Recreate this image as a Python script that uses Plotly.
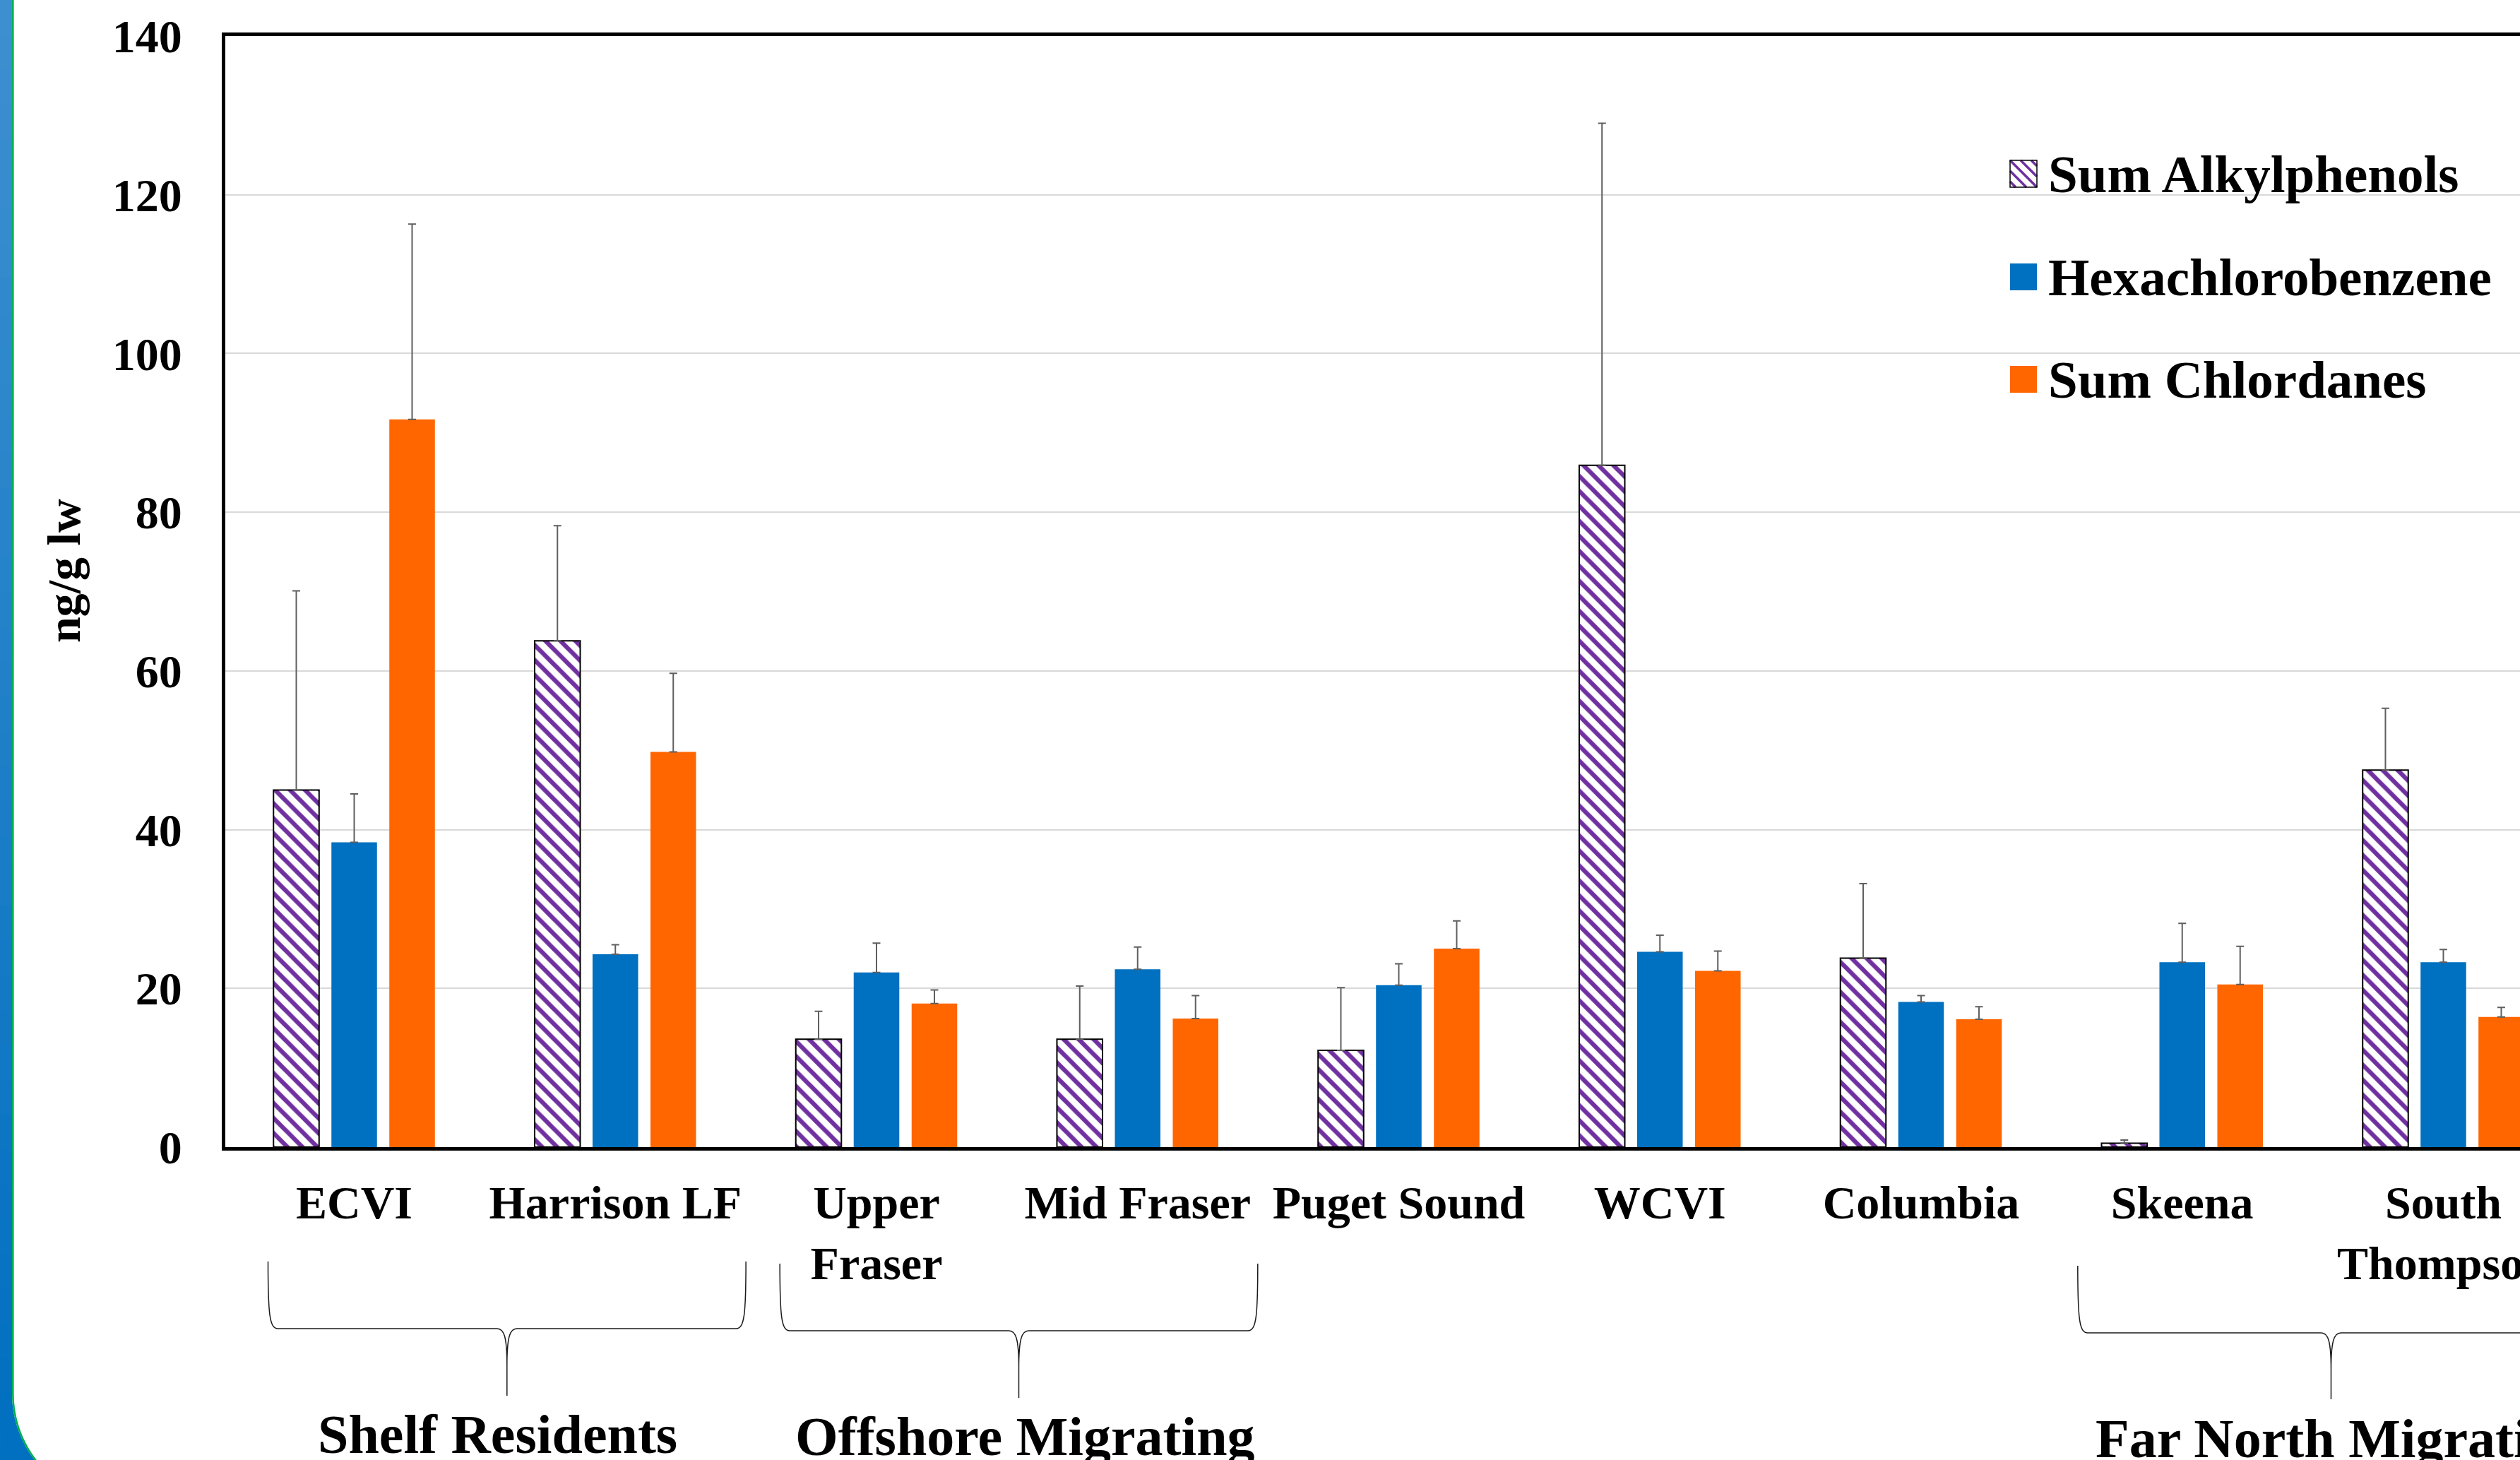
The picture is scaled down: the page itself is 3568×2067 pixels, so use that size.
import math
import plotly.graph_objects as go

# ---------------- data ----------------
categories = ["ECVI", "Harrison LF", "Upper Fraser", "Mid Fraser", "Puget Sound",
              "WCVI", "Columbia", "Skeena", "South Thompson"]
tick_labels = ["ECVI", "Harrison LF", "Upper<br>Fraser", "Mid Fraser", "Puget Sound",
               "WCVI", "Columbia", "Skeena", "South<br>Thompson"]

series_names = ["Sum Alkylphenols", "Hexachlorobenzene", "Sum Chlordanes"]

alkylphenols = [45.0, 63.8, 13.6, 13.6, 12.2, 85.9, 23.8, 0.5, 47.5]
alkylphenols_upper = [70.1, 78.3, 17.1, 20.3, 20.1, 129.0, 33.2, 0.9, 55.3]

hexachlorobenzene = [38.4, 24.3, 22.0, 22.4, 20.4, 24.6, 18.3, 23.3, 23.3]
hexachlorobenzene_upper = [44.5, 25.5, 25.7, 25.2, 23.1, 26.7, 19.1, 28.2, 24.9]

chlordanes = [91.7, 49.8, 18.1, 16.2, 25.0, 22.2, 16.1, 20.5, 16.4]
chlordanes_upper = [116.3, 59.7, 19.8, 19.1, 28.5, 24.7, 17.7, 25.3, 17.6]

y_ticks = [0, 20, 40, 60, 80, 100, 120, 140]
y_title = "ng/g lw"

# migration groups: label, brace span (category units), label centre
group_names = ["Shelf Residents", "Offshore Migrating", "Far North Migrating"]
group_brace_start = [-0.33, 1.63, 6.60]
group_brace_end = [1.50, 3.46, 8.54]
group_label_center = [0.55, 2.57, 7.61]

# ---------------- styling / layout constants ----------------
W, H = 3568, 2067
L, T, B = 319, 51, 1624          # plot area edges in pixels (right edge = page edge)
XMIN, XMAX = -0.4936, 8.2935
YMAX = 140

FONT = "Liberation Serif"
PURPLE = "#7030A0"
BLUE = "#0070C0"
ORANGE = "#FF6600"
ERR = "#5F5F5F"


def pxx(px):
    return (px - L) / (W - L)


def pxy(py):
    return (B - py) / (B - T)


def cat_px(c):
    return L + (c - XMIN) / (XMAX - XMIN) * (W - L)


def err_plus(vals, upper):
    return [round(u - v, 3) for v, u in zip(vals, upper)]


fig = go.Figure()

fig.add_trace(go.Bar(
    x=categories, y=alkylphenols, name=series_names[0],
    marker=dict(color="white",
                pattern=dict(shape="\\", fgcolor=PURPLE, bgcolor="white",
                             size=15, solidity=0.42),
                line=dict(color="black", width=2)),
    error_y=dict(type="data", symmetric=False,
                 array=err_plus(alkylphenols, alkylphenols_upper),
                 arrayminus=[0] * len(alkylphenols),
                 color=ERR, thickness=2, width=5.5),
))
fig.add_trace(go.Bar(
    x=categories, y=hexachlorobenzene, name=series_names[1],
    marker=dict(color=BLUE, line=dict(width=0)),
    error_y=dict(type="data", symmetric=False,
                 array=err_plus(hexachlorobenzene, hexachlorobenzene_upper),
                 arrayminus=[0] * len(hexachlorobenzene),
                 color=ERR, thickness=2, width=5.5),
))
fig.add_trace(go.Bar(
    x=categories, y=chlordanes, name=series_names[2],
    marker=dict(color=ORANGE, line=dict(width=0)),
    error_y=dict(type="data", symmetric=False,
                 array=err_plus(chlordanes, chlordanes_upper),
                 arrayminus=[0] * len(chlordanes),
                 color=ERR, thickness=2, width=5.5),
))

shapes = []
annotations = []

# ---- slide frame: blue gradient strip on the left with a green rim ----
top_rgb = (62, 144, 208)
bot_rgb = (2, 112, 192)
strip_w = 17.0
corner_y = 1973.0
R = 154.0
n_bands = 40
for i in range(n_bands):
    y0 = corner_y * i / n_bands
    y1 = corner_y * (i + 1) / n_bands + 1
    t = (i + 0.5) / n_bands
    col = tuple(round(a + (b - a) * t) for a, b in zip(top_rgb, bot_rgb))
    shapes.append(dict(type="rect", xref="paper", yref="paper",
                       x0=pxx(0), x1=pxx(strip_w), y0=pxy(y1), y1=pxy(y0),
                       fillcolor="rgb(%d,%d,%d)" % col, line=dict(width=0),
                       layer="above"))


def arc_points(x_edge, n=24, a_max=50):
    cx, cy = x_edge + R, corner_y
    pts = []
    for k in range(n + 1):
        a = math.radians(a_max * k / n)
        pts.append((cx - R * math.cos(a), cy + R * math.sin(a)))
    return pts


pts = arc_points(strip_w)
d = "M %.5f,%.5f L %.5f,%.5f " % (pxx(0), pxy(corner_y - 2), pxx(strip_w), pxy(corner_y - 2))
d += " ".join("L %.5f,%.5f" % (pxx(x), pxy(y)) for x, y in pts)
d += " L %.5f,%.5f Z" % (pxx(0), pxy(pts[-1][1]))
shapes.append(dict(type="path", xref="paper", yref="paper", path=d,
                   fillcolor="rgb(%d,%d,%d)" % bot_rgb, line=dict(width=0), layer="above"))

gpts = [(strip_w + 1.3, 0.0)] + arc_points(strip_w + 1.3)
d = "M " + " L ".join("%.5f,%.5f" % (pxx(x), pxy(y)) for x, y in gpts)
shapes.append(dict(type="path", xref="paper", yref="paper", path=d,
                   line=dict(color="#00B050", width=2.6), layer="above"))

# ---- curly braces under the category labels ----
brace_y = [(1786, 1881, 1976), (1789, 1884, 1979), (1792, 1887, 1981)]


def brace_path(xl, xt, xr, yt, ym, yb):
    r = 14.0
    yv = ym + (yb - ym) * 0.55
    yc = yt + 0.78 * (ym - yt)
    segs = [
        ("M", [(xl, yt)]),
        ("C", [(xl, yc), (xl + 2, ym), (xl + r, ym)]),
        ("L", [(xt - r, ym)]),
        ("C", [(xt - 4, ym), (xt, ym + 12), (xt, yv)]),
        ("L", [(xt, yb)]),
        ("M", [(xt, yv)]),
        ("C", [(xt, ym + 12), (xt + 4, ym), (xt + r, ym)]),
        ("L", [(xr - r, ym)]),
        ("C", [(xr - 2, ym), (xr, yc), (xr, yt)]),
    ]
    out = []
    for cmd, ps in segs:
        out.append(cmd + " " + " ".join("%.5f,%.5f" % (pxx(x), pxy(y)) for x, y in ps))
    return " ".join(out)


for i, name in enumerate(group_names):
    xl = cat_px(group_brace_start[i])
    xr = cat_px(group_brace_end[i])
    xt = (xl + xr) / 2
    yt, ym, yb = brace_y[i]
    shapes.append(dict(type="path", xref="paper", yref="paper",
                       path=brace_path(xl, xt, xr, yt, ym, yb),
                       line=dict(color="#1a1a1a", width=1.5), layer="above"))
    annotations.append(dict(text=name, xref="paper", yref="paper",
                            x=pxx(cat_px(group_label_center[i])),
                            y=pxy(2030 + 3 * i), xanchor="center", yanchor="middle",
                            showarrow=False,
                            font=dict(family=FONT, size=78, color="black", weight="bold")))

# ---- legend (drawn swatches + labels) ----
LEG_X = 2846
LEG_Y = [246, 392, 537]
SW = 38
TXT_X = 2898

# hatched swatch
sx0, sy0 = LEG_X, LEG_Y[0] - SW / 2
shapes.append(dict(type="rect", xref="paper", yref="paper",
                   x0=pxx(sx0), x1=pxx(sx0 + SW), y0=pxy(sy0 + SW), y1=pxy(sy0),
                   fillcolor="white", line=dict(width=0), layer="above"))
for c in [-30, -15, 0, 15, 30]:
    if c >= 0:
        p0, p1 = (c, 0), (SW, SW - c)
    else:
        p0, p1 = (0, -c), (SW + c, SW)
    shapes.append(dict(type="line", xref="paper", yref="paper",
                       x0=pxx(sx0 + p0[0]), y0=pxy(sy0 + p0[1]),
                       x1=pxx(sx0 + p1[0]), y1=pxy(sy0 + p1[1]),
                       line=dict(color=PURPLE, width=3.5), layer="above"))
shapes.append(dict(type="rect", xref="paper", yref="paper",
                   x0=pxx(sx0), x1=pxx(sx0 + SW), y0=pxy(sy0 + SW), y1=pxy(sy0),
                   fillcolor="rgba(0,0,0,0)", line=dict(color="black", width=1.5),
                   layer="above"))
for yy, col in zip(LEG_Y[1:], [BLUE, ORANGE]):
    shapes.append(dict(type="rect", xref="paper", yref="paper",
                       x0=pxx(LEG_X), x1=pxx(LEG_X + SW),
                       y0=pxy(yy + SW / 2), y1=pxy(yy - SW / 2),
                       fillcolor=col, line=dict(width=0), layer="above"))
for yy, name in zip(LEG_Y, series_names):
    annotations.append(dict(text=name, xref="paper", yref="paper",
                            x=pxx(TXT_X), y=pxy(yy), xanchor="left", yanchor="middle",
                            showarrow=False,
                            font=dict(family=FONT, size=75, color="black", weight="bold")))

# ---- y-axis title ----
annotations.append(dict(text=y_title, xref="paper", yref="paper",
                        x=pxx(90), y=pxy(808), xanchor="center", yanchor="middle",
                        textangle=-90, showarrow=False,
                        font=dict(family=FONT, size=66, color="black", weight="bold")))

fig.update_layout(
    template="none",
    width=W, height=H,
    margin=dict(l=L, r=0, t=T, b=H - B, pad=0),
    paper_bgcolor="white", plot_bgcolor="white",
    barmode="group", bargap=0.3347, bargroupgap=0.213,
    showlegend=False,
    shapes=shapes, annotations=annotations,
    font=dict(family=FONT, color="black"),
)

fig.update_xaxes(
    range=[XMIN, XMAX], tickmode="array", tickvals=categories, ticktext=tick_labels,
    tickfont=dict(family=FONT, size=66, color="black", weight="bold"),
    ticks="", ticklabelstandoff=17,
    showline=True, linecolor="black", linewidth=5, mirror=True,
    showgrid=False, zeroline=False, automargin=False, fixedrange=True,
)
fig.update_yaxes(
    range=[0, YMAX], tickmode="array", tickvals=y_ticks,
    tickfont=dict(family=FONT, size=66, color="black", weight="bold"),
    ticks="", ticklabelstandoff=43,
    showline=True, linecolor="black", linewidth=5, mirror=False,
    showgrid=True, gridcolor="#D9D9D9", gridwidth=2,
    zeroline=False, automargin=False, fixedrange=True,
)

fig.write_html("out.html", config={"displayModeBar": False})
